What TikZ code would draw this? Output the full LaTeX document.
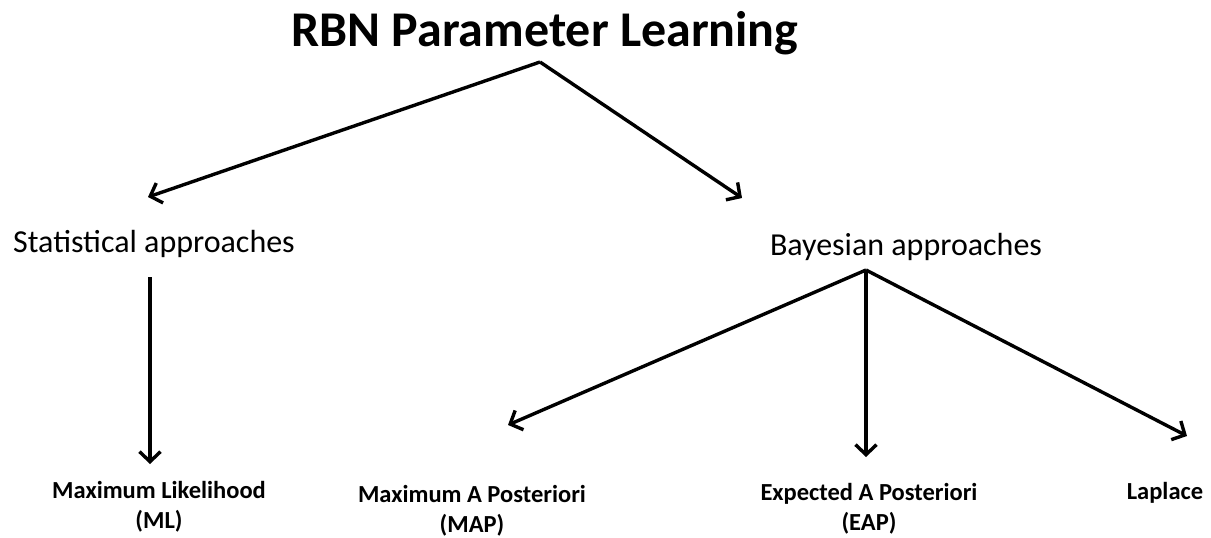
\documentclass[tikz,border=0pt]{standalone}
\usepackage{fontspec}
\setmainfont{Carlito}
\usetikzlibrary{arrows.meta}
\begin{document}
\begin{tikzpicture}[x=1pt,y=-1pt,
  conn/.style={line width=3.4pt,-{Straight Barb[length=10pt,width=21pt,line width=3.4pt]}},
  title/.style={font=\fontsize{50}{56}\selectfont\bfseries,inner sep=0pt},
  cat/.style={font=\fontsize{32}{36}\selectfont,inner sep=0pt,anchor=base},
  leaf/.style={font=\fontsize{24.5}{30}\selectfont\bfseries,inner sep=0pt,align=center}]
\useasboundingbox (0,0) rectangle (1211,538);
\node[title] (t) at (545,33) {RBN Parameter Learning};
\coordinate (ta) at (540,62);
\coordinate (sa) at (148,197);
\coordinate (ba) at (742,198);
\node[cat] (stat) at (154,252) {Statistical approaches};
\node[cat] (bay) at (906,255) {Bayesian approaches};
\coordinate (s1) at (150,277);
\coordinate (s2) at (150,464);
\coordinate (b0) at (866,270);
\coordinate (bm) at (508,425);
\coordinate (be) at (866,457);
\coordinate (bl) at (1187,436);
\node[leaf] (ml) at (159,507) {Maximum Likelihood\\(ML)};
\node[leaf] (map) at (472,511) {Maximum A Posteriori\\(MAP)};
\node[leaf] (eap) at (869,509) {Expected A Posteriori\\(EAP)};
\node[leaf,anchor=base] (lap) at (1165,499) {Laplace};
\draw[conn] (ta) -- (sa);
\draw[conn] (ta) -- (ba);
\draw[conn] (s1) -- (s2);
\draw[conn] (b0) -- (bm);
\draw[conn] (b0) -- (be);
\draw[conn] (b0) -- (bl);
\end{tikzpicture}
\end{document}
